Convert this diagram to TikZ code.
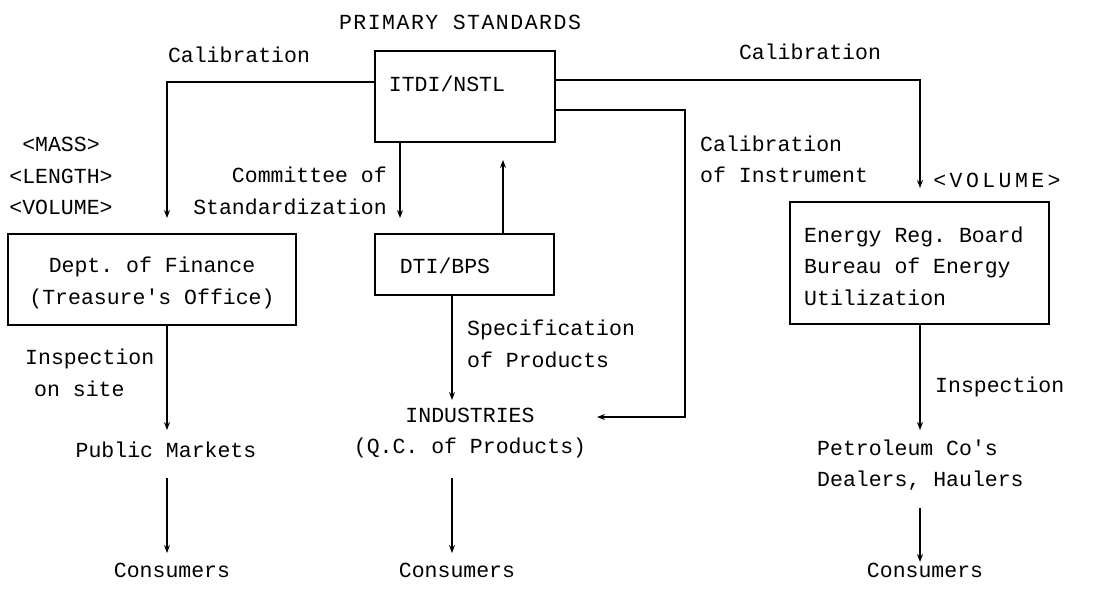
\documentclass[tikz,border=0pt]{standalone}
\usepackage{fontspec}
\setmonofont{Liberation Mono}
\usetikzlibrary{arrows.meta,calc}
\begin{document}
\begin{tikzpicture}[x=1pt,y=-1pt,
  every node/.style={font=\ttfamily\fontsize{21.5}{31.5}\selectfont, inner sep=0pt},
  box/.style={draw, line width=1.2pt, inner sep=0pt},
  arr/.style={-{Stealth[length=8pt,width=6pt]}, line width=1.1pt}]
\useasboundingbox (0,0) rectangle (1097,590);
% boxes
\node[box, minimum width=180pt, minimum height=91pt] (itdi) at (465,96.5) {};
\node[box, minimum width=288pt, minimum height=91pt] (dept) at (152,279.5) {};
\node[box, minimum width=179pt, minimum height=61pt] (dti) at (464.5,264.5) {};
\node[box, minimum width=259pt, minimum height=122pt] (energy) at (919.5,263) {};
% texts
\node (prim) at (460,22) {\addfontfeature{LetterSpace=7}PRIMARY STANDARDS};
\node (itditxt) at (447,84) {ITDI/NSTL};
\node (cal1) at (239,55) {Calibration};
\node (cal2) at (810,52) {Calibration};
\node[align=center] (mlv) at (61,176) {<MASS>\\<LENGTH>\\<VOLUME>};
\node[align=center] (depttxt) at (152,283) {Dept. of Finance\\(Treasure's Office)};
\node (dtitxt) at (445,266) {DTI/BPS};
\node[align=left, anchor=west] (energytxt) at (804,266) {Energy Reg. Board\\Bureau of Energy\\Utilization};
\node[align=right, anchor=east] (comm) at (387,191) {Committee of\\Standardization};
\node[align=left, anchor=west] (calinst) at (700,159.5) {Calibration\\of Instrument};
\node (vol2) at (997,180) {\addfontfeature{LetterSpace=16}<VOLUME>};
\node[align=left, anchor=west] (insp1) at (25,373) {Inspection\\\hspace*{9pt}on site};
\node[align=left, anchor=west] (spec) at (467,344) {Specification\\of Products};
\node[align=left, anchor=west] (insp2) at (935,387) {Inspection};
\node (pm) at (166,450) {Public Markets};
\node[align=center] (ind) at (470,433) {INDUSTRIES\\(Q.C. of Products)};
\node[align=left, anchor=west] (petro) at (817,465) {Petroleum Co's\\Dealers, Haulers};
\node (cons1) at (172,570) {Consumers};
\node (cons2) at (457,570) {Consumers};
\node (cons3) at (925,570) {Consumers};
% coordinates for arrow ends
\coordinate (a1) at (167,218);
\coordinate (a2) at (400,218);
\coordinate (a3) at (503,160);
\coordinate (a4) at (920,188);
\coordinate (a5) at (597,417);
\coordinate (a6) at (167,430);
\coordinate (a7) at (452,400);
\coordinate (a8) at (920,430);
\coordinate (b1s) at (167,478);
\coordinate (b1) at (167,553);
\coordinate (b2s) at (452,478);
\coordinate (b2) at (452,553);
\coordinate (b3s) at (920,508);
\coordinate (b3) at (920,562);
% connectors
\draw[arr] (itdi.west |- 0,82) -| (a1);
\draw[arr] (a2 |- itdi.south) -- (a2);
\draw[arr] (a3 |- dti.north) -- (a3);
\draw[arr] (itdi.east |- 0,80) -| (a4);
\draw[arr] (itdi.east |- 0,110) -| (685,417) -- (a5);
\draw[arr] (a6 |- dept.south) -- (a6);
\draw[arr] (a7 |- dti.south) -- (a7);
\draw[arr] (a8 |- energy.south) -- (a8);
\draw[arr] (b1s) -- (b1);
\draw[arr] (b2s) -- (b2);
\draw[arr] (b3s) -- (b3);
\end{tikzpicture}
\end{document}
